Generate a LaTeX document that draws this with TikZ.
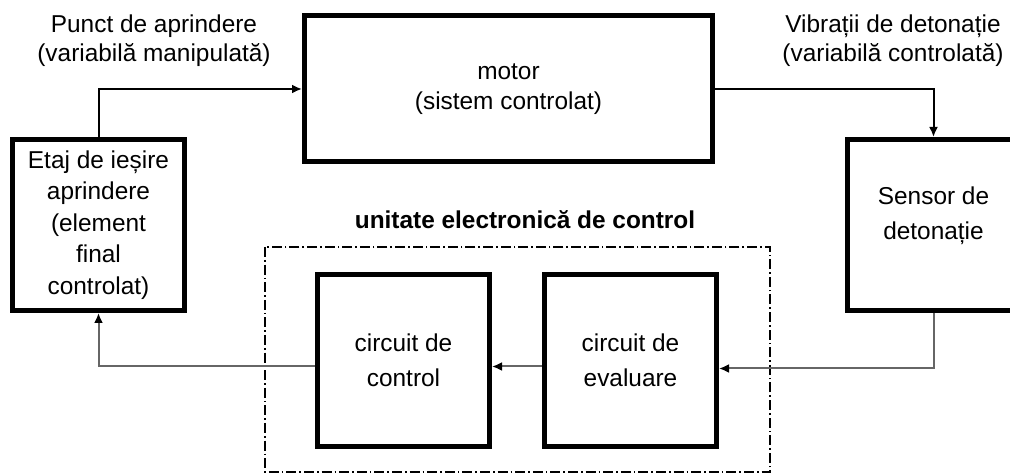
\documentclass[tikz,border=0pt]{standalone}
\usepackage{fontspec}
\setmainfont{Liberation Sans}
\usetikzlibrary{arrows.meta}
\begin{document}
\begin{tikzpicture}[x=0.5pt,y=-0.5pt,
  blockbox/.style={draw=black,line width=2.5pt,fill=white,align=center,inner sep=0pt},
  txt/.style={align=center,inner sep=0pt},
  conn/.style={line width=1pt,-{Latex[length=5pt,width=4.5pt]}},
  fbconn/.style={conn,draw=black!60,-{Latex[length=5pt,width=4.5pt,fill=black,color=black]}},
  ecu/.style={draw=black,line width=0.7pt,dash pattern=on 5pt off 1.5pt on 0.8pt off 1.5pt}
]
\useasboundingbox (0,0) rectangle (1010,474);
\clip (0,0) rectangle (1010,474);

% dash-dot frame of the electronic control unit
\draw[ecu] (265,247) rectangle (770,472);
\node[txt,font=\fontsize{12.2}{15}\selectfont\bfseries] (ecutitle) at (525,220) {unitate electronică de control};

% blocks
\node[blockbox,minimum width=204pt,minimum height=73pt,font=\fontsize{12.2}{15}\selectfont] (motor) at (508.5,89) {motor\\(sistem controlat)};
\node[blockbox,minimum width=86pt,minimum height=85.5pt,font=\fontsize{12.2}{15.7}\selectfont] (etaj) at (98.5,225) {Etaj de ieșire\\aprindere\\(element\\final\\controlat)};
\node[blockbox,minimum width=86pt,minimum height=85.5pt] (sensor) at (933.5,225) {};
\node[txt,font=\fontsize{12.2}{17.5}\selectfont] (sensortext) at (933.5,216) {Sensor de\\detonație};
\node[blockbox,minimum width=86pt,minimum height=86pt,font=\fontsize{12.2}{17.5}\selectfont] (control) at (403.5,360.5) {circuit de\\control};
\node[blockbox,minimum width=86pt,minimum height=86pt,font=\fontsize{12.2}{17.5}\selectfont] (eval) at (630.5,360.5) {circuit de\\evaluare};

% variable labels
\node[txt,font=\fontsize{12.2}{14.5}\selectfont] (manip) at (154,41) {Punct de aprindere\\(variabilă manipulată)};
\node[txt,font=\fontsize{12.2}{14.5}\selectfont] (ctrlvar) at (893,41) {Vibrații de detonație\\(variabilă controlată)};

% connectors
\draw[conn] (etaj.north) |- (motor.west);
\draw[conn] (motor.east) -| (sensor.north);
\draw[fbconn] (sensor.south) |- ([yshift=-4pt]eval.east);
\draw[fbconn] ([yshift=-3pt]eval.west) -- ([yshift=-3pt]control.east);
\draw[fbconn] ([yshift=-3pt]control.west) -| (etaj.south);
\end{tikzpicture}
\end{document}
